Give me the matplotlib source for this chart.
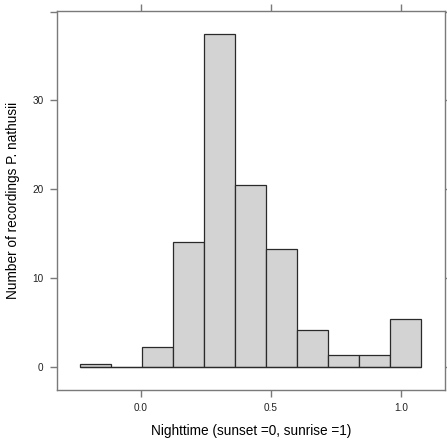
import numpy as np
import matplotlib.pyplot as plt

plt.rcParams['font.family'] = ['Liberation Sans', 'DejaVu Sans']

# Histogramm-Daten
bin_start = -0.233
bin_end = 1.078
percent = [0.25, 0.0, 2.2, 14.0, 37.5, 20.5, 13.3, 4.15, 1.26, 1.26, 5.3]
x_ticks = [0.0, 0.5, 1.0]
x_tick_labels = ['0.0', '0.5', '1.0']
y_ticks = [0, 10, 20, 30, 40]
y_tick_labels = ['0', '10', '20', '30', '']

edges = np.linspace(bin_start, bin_end, len(percent) + 1)
widths = np.diff(edges)

fig = plt.figure(figsize=(4.47, 4.40), dpi=100)
ax = fig.add_axes([0.1268, 0.1136, 0.8687, 0.8614])

ax.bar(edges[:-1], percent, width=widths, align='edge',
       color='#d3d3d3', edgecolor='#2a2a2a', linewidth=0.9)
ax.hlines(0, edges[0], edges[-1], color='#2a2a2a', linewidth=0.9)

ax.set_xlim(-0.323, 1.170)
ax.set_ylim(-2.65, 40.08)

axis_col = '#7a7a7a'
for s in ax.spines.values():
    s.set_color(axis_col)
    s.set_linewidth(1.0)

ax.set_xticks(x_ticks)
ax.set_xticklabels(x_tick_labels)
ax.set_yticks(y_ticks)
ax.set_yticklabels(y_tick_labels)
ax.tick_params(direction='out', length=5, width=1.0, color=axis_col,
               labelsize=7.2, labelcolor='#222222', top=True, right=True, pad=4.5)

ax.set_xlabel('Nighttime (sunset =0, sunrise =1)', fontsize=9.8, labelpad=7.5)
ax.set_ylabel('Number of recordings P. nathusii', fontsize=9.8, labelpad=9)

plt.savefig('out.png', dpi=100)
